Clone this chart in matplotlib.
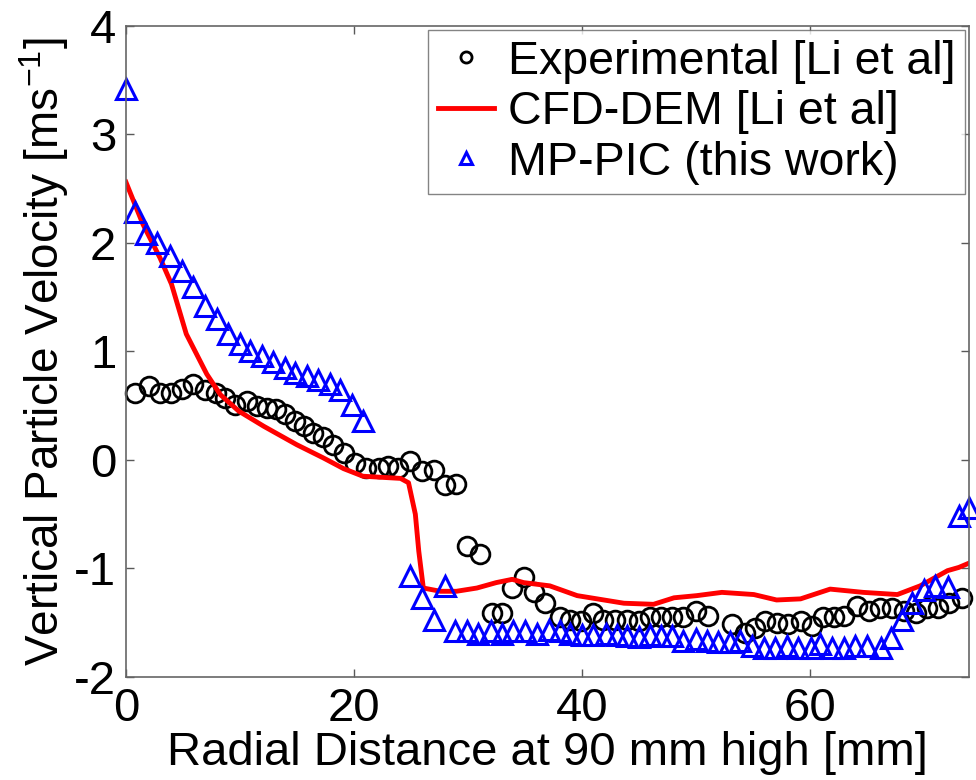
import numpy as np
import matplotlib
matplotlib.use("Agg")
import matplotlib.pyplot as plt
from matplotlib.lines import Line2D

# Experimental [Li et al]
exp_x = [0.8, 2.0, 3.0, 4.0, 4.9, 5.9, 6.9, 7.9, 8.7, 9.6, 10.6, 11.5, 12.4, 13.2, 14.0,
         14.8, 15.6, 16.4, 17.3, 18.2, 19.1, 20.1, 21.1, 22.2, 23.0, 23.9, 24.9, 26.0,
         27.0, 28.0, 29.0, 29.9, 31.1, 32.1, 33.0, 33.9, 34.9, 35.8, 36.8, 38.1, 39.0,
         39.9, 41.0, 41.9, 42.9, 44.0, 45.0, 46.0, 47.0, 47.9, 48.9, 50.0, 51.1, 53.2,
         54.3, 55.2, 56.1, 57.1, 58.1, 59.2, 60.2, 61.2, 62.1, 63.0, 64.2, 65.2, 66.2,
         67.2, 68.3, 69.3, 70.3, 71.3, 72.2, 73.4]
exp_y = [0.62, 0.68, 0.62, 0.62, 0.65, 0.70, 0.64, 0.62, 0.57, 0.51, 0.54, 0.50, 0.48,
         0.47, 0.42, 0.36, 0.31, 0.25, 0.21, 0.14, 0.06, -0.03, -0.07, -0.07, -0.06,
         -0.07, -0.01, -0.10, -0.09, -0.23, -0.22, -0.79, -0.87, -1.41, -1.41, -1.18,
         -1.08, -1.22, -1.32, -1.45, -1.47, -1.48, -1.41, -1.47, -1.47, -1.47, -1.48,
         -1.45, -1.45, -1.45, -1.45, -1.39, -1.44, -1.51, -1.59, -1.55, -1.48, -1.50,
         -1.51, -1.48, -1.53, -1.45, -1.45, -1.44, -1.35, -1.39, -1.36, -1.36, -1.39,
         -1.41, -1.36, -1.36, -1.32, -1.27]

# CFD-DEM [Li et al]
cfd_x = [0.0, 1.5, 3.0, 4.0, 5.3, 7.1, 8.3, 9.9, 12.1, 15.0, 17.3, 19.1, 20.8, 24.1,
         24.8, 25.4, 25.7, 26.1, 27.6, 29.0, 30.8, 32.5, 33.9, 34.9, 37.2, 39.6, 43.7,
         46.3, 48.1, 50.1, 52.3, 55.1, 57.1, 59.2, 61.8, 64.7, 67.7, 69.7, 72.1, 73.1, 74.0]
cfd_y = [2.56, 2.17, 1.86, 1.62, 1.16, 0.79, 0.60, 0.45, 0.31, 0.14, 0.02, -0.08,
         -0.15, -0.17, -0.21, -0.50, -0.84, -1.18, -1.21, -1.21, -1.18, -1.13, -1.10,
         -1.13, -1.16, -1.25, -1.32, -1.33, -1.27, -1.25, -1.22, -1.24, -1.29, -1.28,
         -1.19, -1.22, -1.24, -1.16, -1.02, -0.99, -0.95]

# MP-PIC (this work)
pic_x = [0.0, 0.8, 1.8, 2.7, 3.9, 4.9, 5.9, 6.9, 8.0, 9.0, 10.0, 10.9, 11.9, 12.9, 14.0,
         14.8, 15.9, 16.9, 17.9, 18.8, 19.8, 20.8,
         24.9, 26.0, 27.0, 28.0, 28.9, 29.9, 30.9, 32.0, 33.0, 34.0, 35.0, 36.1, 37.1,
         38.1, 39.0, 40.0, 41.0, 42.1, 43.1, 44.0, 45.0, 46.0, 47.0, 47.9, 48.9, 50.0,
         51.0, 52.0, 53.0, 53.9, 54.9, 56.0, 57.0, 58.0, 59.0, 60.1, 60.9, 62.0, 63.0,
         64.0, 65.0, 66.3, 67.1, 68.1, 69.0, 70.0, 71.0, 72.1, 73.1, 74.0]
pic_y = [3.42, 2.28, 2.08, 2.00, 1.88, 1.74, 1.59, 1.42, 1.30, 1.16, 1.07, 1.00, 0.96,
         0.90, 0.85, 0.80, 0.77, 0.74, 0.70, 0.64, 0.51, 0.36,
         -1.07, -1.27, -1.47, -1.16, -1.58, -1.58, -1.60, -1.58, -1.60, -1.58, -1.58,
         -1.60, -1.57, -1.58, -1.60, -1.61, -1.61, -1.60, -1.61, -1.62, -1.63, -1.61,
         -1.62, -1.62, -1.67, -1.65, -1.67, -1.68, -1.68, -1.67, -1.71, -1.73, -1.73,
         -1.71, -1.73, -1.73, -1.70, -1.73, -1.73, -1.71, -1.71, -1.73, -1.64, -1.47,
         -1.32, -1.20, -1.16, -1.17, -0.52, -0.44]

plt.rcParams["font.family"] = ["Liberation Sans", "DejaVu Sans"]
plt.rcParams["axes.unicode_minus"] = False
plt.rcParams["mathtext.default"] = "regular"

fig = plt.figure(figsize=(9.76, 7.8), dpi=100)
ax = fig.add_axes([0.129, 0.132, 0.864, 0.835])

ax.plot(exp_x, exp_y, "o", ms=13.5, mfc="none", mec="black", mew=2.0, clip_on=False)
ax.plot(cfd_x, cfd_y, "-", color="red", lw=3.5)
ax.plot(pic_x, pic_y, "^", ms=14.5, mfc="none", mec="blue", mew=2.2, clip_on=False)

ax.set_xlim(0, 74)
ax.set_ylim(-2, 4)
ax.set_xticks([0, 20, 40, 60])
ax.set_yticks([-2, -1, 0, 1, 2, 3, 4])
ax.tick_params(direction="in", length=6, width=1, top=True, right=True,
               labelsize=34, pad=7, color="0.35")
for s in ax.spines.values():
    s.set_color("0.4")
    s.set_linewidth(1.2)

ax.set_xlabel("Radial Distance at 90 mm high [mm]", fontsize=34, labelpad=0)
ax.set_ylabel("Vertical Particle Velocity [ms$^{-1}$]", fontsize=33, labelpad=2)

handles = [
    Line2D([], [], ls="none", marker="o", ms=8, mfc="none", mec="black", mew=2),
    Line2D([], [], color="red", lw=3.5),
    Line2D([], [], ls="none", marker="^", ms=9, mfc="none", mec="blue", mew=2.2),
]
labels = ["Experimental [Li et al]", "CFD-DEM [Li et al]", "MP-PIC (this work)"]
leg = ax.legend(handles, labels, loc="upper right", fontsize=33.5, frameon=True,
                fancybox=False, handlelength=1.2, handletextpad=0.3,
                labelspacing=0.14, borderpad=0.2, borderaxespad=0.1)
leg.get_frame().set_edgecolor("0.4")
leg.get_frame().set_linewidth(1.0)

fig.savefig("out.png", dpi=100)
